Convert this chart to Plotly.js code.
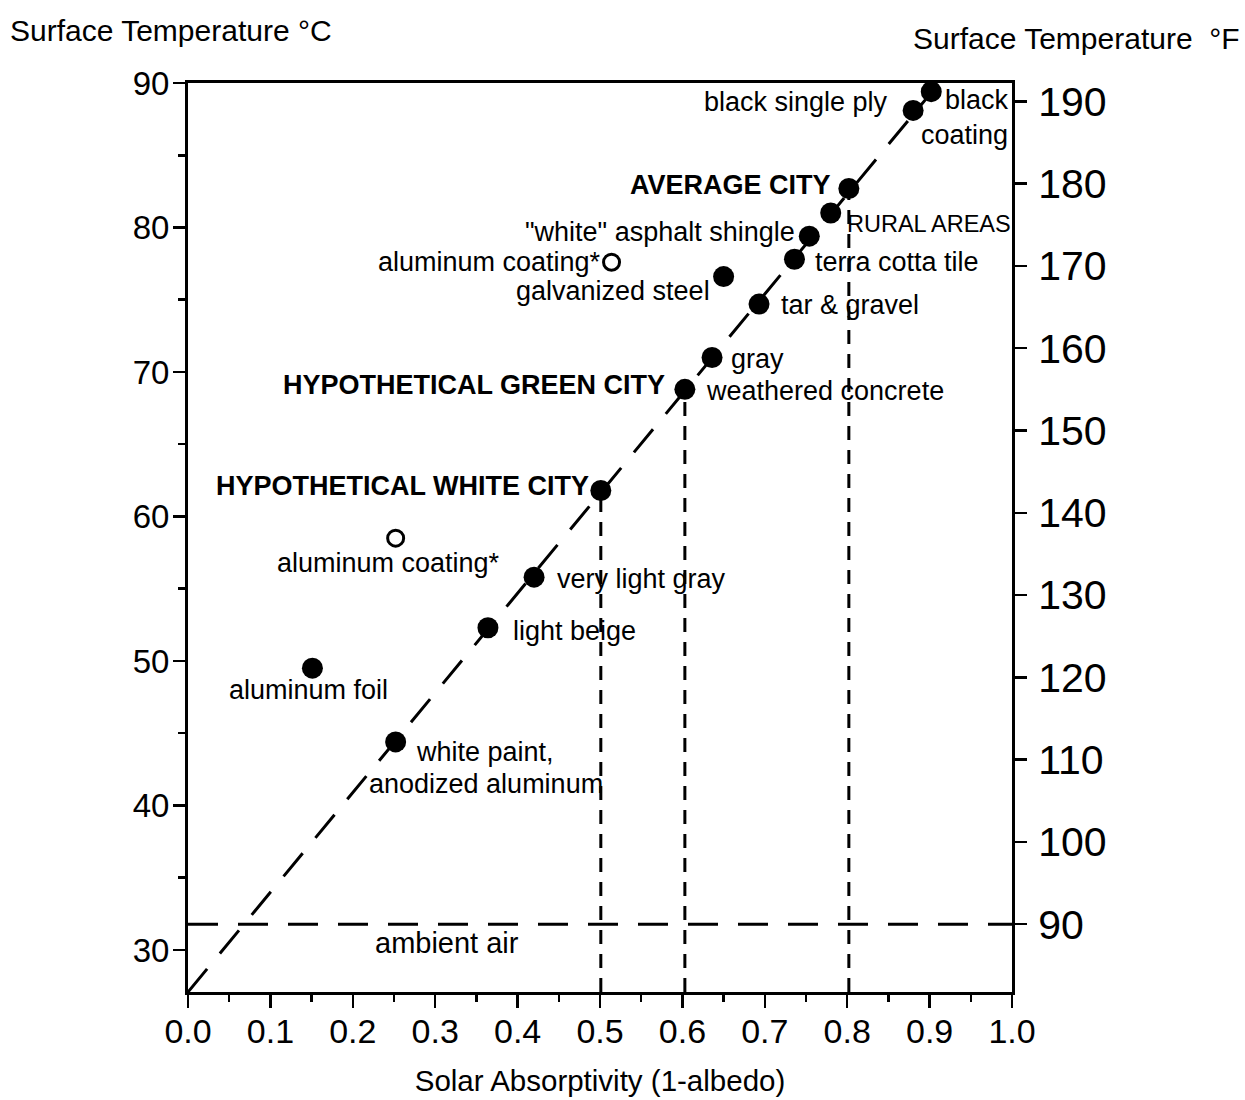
<!DOCTYPE html>
<html>
<head>
<meta charset="utf-8">
<script src="https://cdn.plot.ly/plotly-3.0.1.min.js"></script>
<style>html,body{margin:0;padding:0;background:#fff;}#chart{width:1245px;height:1100px;}</style>
</head>
<body>
<div id="chart"></div>
<script>
// ---- data ----
const filledLabels = ["black coating", "black single ply", "AVERAGE CITY", "RURAL AREAS",
  "\"white\" asphalt shingle", "terra cotta tile", "galvanized steel", "tar & gravel", "gray",
  "weathered concrete", "HYPOTHETICAL WHITE CITY", "very light gray", "light beige",
  "aluminum foil", "white paint, anodized aluminum"];
const filledX = [0.902, 0.880, 0.802, 0.780, 0.754, 0.736, 0.650, 0.693, 0.636, 0.603, 0.501, 0.420, 0.364, 0.151, 0.252];
const filledY = [89.4, 88.1, 82.7, 81.0, 79.4, 77.8, 76.6, 74.7, 71.0, 68.8, 61.8, 55.8, 52.3, 49.5, 44.4];

const openLabels = ["aluminum coating*", "aluminum coating*"];
const openX = [0.514, 0.252];
const openY = [77.6, 58.5];

// reference line (surface temperature vs absorptivity)
const trendX = [0.0, 0.895];
const trendY = [27.09, 88.85];

// ambient air (°F)
const ambientF = 90;

// guide lines dropped from the three "city" points
const cityIdx = [10, 9, 2];   // white city, green city, average city

const xTicks = [0, 0.1, 0.2, 0.3, 0.4, 0.5, 0.6, 0.7, 0.8, 0.9, 1.0];
const xTickText = ["0.0", "0.1", "0.2", "0.3", "0.4", "0.5", "0.6", "0.7", "0.8", "0.9", "1.0"];
const cTicks = [30, 40, 50, 60, 70, 80, 90];
const fTicks = [90, 100, 110, 120, 130, 140, 150, 160, 170, 180, 190];

// ---- ranges ----
const xRange = [0, 1];
const cRange = [27.09, 90.0];
const fRange = [81.76, 192.23];

const FONT = "Liberation Sans, Arial, Helvetica, sans-serif";

const traces = [];
// trend line
traces.push({x: trendX, y: trendY, mode: "lines", line: {color: "#000", width: 3, dash: "30px,20px"}, hoverinfo: "skip"});
// ambient air line on the °F axis
traces.push({x: xRange, y: [ambientF, ambientF], yaxis: "y2", mode: "lines", line: {color: "#000", width: 3, dash: "30px,20px"}, hoverinfo: "skip"});
// guide lines
cityIdx.forEach(i => {
  traces.push({x: [filledX[i], filledX[i]], y: [cRange[0], filledY[i]], mode: "lines", line: {color: "#000", width: 3, dash: "14px,10px"}, hoverinfo: "skip"});
});
// filled points
traces.push({x: filledX, y: filledY, text: filledLabels, mode: "markers", marker: {color: "#000", size: 21}, hoverinfo: "text"});
// open points
traces.push({x: openX, y: openY, text: openLabels, mode: "markers", marker: {color: "#fff", size: 16, line: {color: "#000", width: 3}}, hoverinfo: "text"});

// ---- label placement (pixel offsets from the point) ----
function lab(text, x, y, xanchor, xshift, yshift, opts) {
  opts = opts || {};
  return {x: x, y: y, xref: "x", yref: "y", text: text, showarrow: false,
    xanchor: xanchor, yanchor: "middle", xshift: xshift, yshift: yshift,
    align: opts.align || xanchor,
    font: {family: FONT, size: opts.size || 27, color: "#000"}};
}
const B = s => "<b>" + s + "</b>";
const ann = [
  lab("black<br>coating", filledX[0], filledY[0], "right", 80, -26, {align: "right"}),
  lab(filledLabels[1], filledX[1], filledY[1], "right", -23, 8),
  lab(B(filledLabels[2]), filledX[2], filledY[2], "right", -16, 3),
  lab(filledLabels[3], filledX[3], filledY[3], "left", 14, -11, {size: 23.5}),
  lab(filledLabels[4], filledX[4], filledY[4], "right", -12, 4),
  lab(filledLabels[5], filledX[5], filledY[5], "left", 19, -3),
  lab(filledLabels[6], filledX[6], filledY[6], "right", -12, -14),
  lab(filledLabels[7], filledX[7], filledY[7], "left", 20, -1),
  lab(filledLabels[8], filledX[8], filledY[8], "left", 17, -1),
  lab(B("HYPOTHETICAL GREEN CITY"), filledX[9], filledY[9], "right", -18, 4),
  lab(filledLabels[9], filledX[9], filledY[9], "left", 19, -2),
  lab(B(filledLabels[10]), filledX[10], filledY[10], "right", -10, 4),
  lab(filledLabels[11], filledX[11], filledY[11], "left", 21, -2),
  lab(filledLabels[12], filledX[12], filledY[12], "left", 23, -3),
  lab(filledLabels[13], filledX[13], filledY[13], "center", -4, -22),
  lab("white paint,", filledX[14], filledY[14], "left", 18, -10),
  lab("anodized aluminum", filledX[14], filledY[14], "left", -29, -42),
  lab(openLabels[0], openX[0], openY[0], "right", -9, 0),
  lab(openLabels[1], openX[1], openY[1], "center", -7, -25),
  {x: 0.225, y: ambientF, xref: "x", yref: "y2", text: "ambient air", showarrow: false,
   xanchor: "left", yanchor: "middle", yshift: -19, font: {family: FONT, size: 29, color: "#000"}},
  // axis titles at the top (horizontal)
  {x: 0, y: 1, xref: "paper", yref: "paper", text: "Surface Temperature °C", showarrow: false,
   xanchor: "left", yanchor: "middle", xshift: -180, yshift: 53, font: {family: FONT, size: 30, color: "#000"}},
  {x: 1, y: 1, xref: "paper", yref: "paper", text: "Surface Temperature\u00A0 °F", showarrow: false,
   xanchor: "right", yanchor: "middle", xshift: 230, yshift: 45, font: {family: FONT, size: 30, color: "#000"}}
];

const layout = {
  width: 1245, height: 1100,
  margin: {l: 188, r: 233, t: 83, b: 108},
  paper_bgcolor: "#fff", plot_bgcolor: "#fff",
  showlegend: false,
  font: {family: FONT, color: "#000"},
  xaxis: {
    range: xRange, tickmode: "array", tickvals: xTicks, ticktext: xTickText,
    showgrid: false, zeroline: false, showline: true, mirror: true, linecolor: "#000", linewidth: 3,
    ticks: "outside", ticklen: 13, tickwidth: 2.5, tickcolor: "#000", ticklabelstandoff: -6,
    minor: {tickmode: "linear", tick0: 0, dtick: 0.05, ticks: "outside", ticklen: 7, tickwidth: 2.5, tickcolor: "#000", showgrid: false},
    tickfont: {family: FONT, size: 34, color: "#000"},
    title: {text: "Solar Absorptivity (1-albedo)", font: {family: FONT, size: 29.5, color: "#000"}, standoff: 22}
  },
  yaxis: {
    range: cRange, tickmode: "array", tickvals: cTicks,
    showgrid: false, zeroline: false, showline: true, mirror: true, linecolor: "#000", linewidth: 3,
    ticks: "outside", ticklen: 12, tickwidth: 2.5, tickcolor: "#000", ticklabelstandoff: -3,
    minor: {tickmode: "linear", tick0: 0, dtick: 5, ticks: "outside", ticklen: 7, tickwidth: 2.5, tickcolor: "#000", showgrid: false},
    tickfont: {family: FONT, size: 33, color: "#000"}
  },
  yaxis2: {
    overlaying: "y", side: "right", range: fRange, tickmode: "array", tickvals: fTicks,
    showgrid: false, zeroline: false, showline: true, linecolor: "#000", linewidth: 3,
    ticks: "outside", ticklen: 12, tickwidth: 2.5, tickcolor: "#000", ticklabelstandoff: 3,
    tickfont: {family: FONT, size: 41, color: "#000"}
  },
  annotations: ann
};

Plotly.newPlot("chart", traces, layout, {displayModeBar: false, staticPlot: true});
</script>
</body>
</html>
